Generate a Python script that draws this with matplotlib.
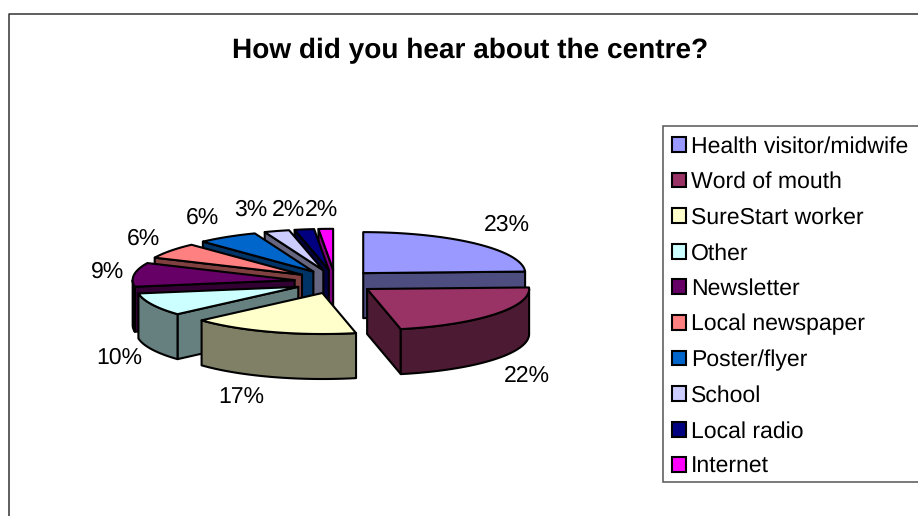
import numpy as np
import matplotlib
matplotlib.use("Agg")
import matplotlib.pyplot as plt
from matplotlib.patches import Polygon, Patch, Rectangle

categories = ["Health visitor/midwife", "Word of mouth", "SureStart worker", "Other",
              "Newsletter", "Local newspaper", "Poster/flyer", "School", "Local radio", "Internet"]
shares = [23, 22, 17, 10, 9, 6, 6, 3, 2, 2]
top_colors = ["#9999FF", "#993366", "#FFFFCC", "#CCFFFF", "#660066",
              "#FF8080", "#0066CC", "#CCCCFF", "#000080", "#FF00FF"]
label_xy = [(507, 225), (527, 376), (241, 398), (119, 358), (108, 272),
            (143, 239), (202, 218), (251, 210), (288, 210), (321, 210)]
# Angular drift (degrees) of each slice boundary under the tilted 3-D projection
edge_drift = [0, 5, 6, 5, 1.5, 3, 3.8, 4, 2.2, 2, 0]

plt.rcParams["font.family"] = ["Liberation Sans", "DejaVu Sans"]
plt.rcParams["text.hinting"] = "no_hinting"
plt.rcParams["text.hinting_factor"] = 1
W, H = 918, 516
fig = plt.figure(figsize=(W / 100, H / 100), dpi=100)
ax = fig.add_axes([0, 0, 1, 1])
ax.set_xlim(0, W)
ax.set_ylim(H, 0)
ax.axis("off")

# Pie geometry in figure pixels
CX, CY = 335.0, 281.7
RX, RY = 162.0, 41.0
EX, EY = 40.7, 11.9
DEPTH = 45.0
LW = 1.5


def rim(a0, a1, ox, oy, dz=0.0):
    t = np.radians(np.linspace(a0, a1, max(2, int(abs(a1 - a0)) + 2)))
    return np.column_stack([ox + RX * np.sin(t), oy - RY * np.cos(t) + dz])


def shade(color):
    return tuple(c * 0.5 for c in matplotlib.colors.to_rgb(color))


def face(points, color, z):
    ax.add_patch(Polygon(points, closed=True, facecolor=color, edgecolor="black",
                         linewidth=LW, joinstyle="round", zorder=z))


edges = np.concatenate([[0], np.cumsum(shares)]) / sum(shares) * 360 + np.array(edge_drift)
order = np.argsort(-np.cos(np.radians((edges[:-1] + edges[1:]) / 2)), kind="stable")

for rank, i in enumerate(order):
    a0, a1 = edges[i], edges[i + 1]
    mid = np.radians((a0 + a1) / 2)
    ox, oy = CX + EX * np.sin(mid), CY - EY * np.cos(mid)
    wall = shade(top_colors[i])
    z = 2 + rank
    apex = np.array([[ox, oy]])
    down = np.array([0, DEPTH])

    # Cut faces that look towards the viewer
    for ang, visible in ((a0, np.sin(np.radians(a0)) < -1e-6),
                         (a1, np.sin(np.radians(a1)) > 1e-6)):
        if visible:
            tip = rim(ang, ang, ox, oy)[:1]
            face(np.vstack([apex, tip, tip + down, apex + down]), wall, z)

    # Outer wall on the front half of the disc
    lo, hi = max(a0, 90), min(a1, 270)
    if hi > lo:
        upper = rim(lo, hi, ox, oy)
        lower = rim(lo, hi, ox, oy, DEPTH)
        face(np.vstack([upper, lower[::-1]]), wall, z)

    face(np.vstack([apex, rim(a0, a1, ox, oy)]), top_colors[i], z)

for (x, y), share in zip(label_xy, shares):
    ax.text(x, y, f"{share}%", fontsize=16.8, ha="center", va="center", color="black", zorder=30)

ax.text(470, 51, "How did you hear about the centre?", fontsize=20.1, fontweight="bold",
        ha="center", va="center", color="black")

# Chart frame runs off the right and bottom edges
ax.plot([8.5, 8.5, W + 5], [H + 5, 14, 14], color="#333333", lw=1.1, zorder=1)

# Legend box also runs off the right edge
ax.add_patch(Rectangle((663, 126), W, 355.5, facecolor="white", edgecolor="#555555",
                       linewidth=1.1, zorder=1))
handles = [Patch(facecolor=c, edgecolor="black", linewidth=LW) for c in top_colors]
leg = ax.legend(handles, categories, loc="upper left", bbox_to_anchor=(672, 136),
                bbox_transform=ax.transData, fontsize=16.8, frameon=False, borderpad=0,
                labelspacing=0.607, handlelength=0.6, handleheight=0.6,
                handletextpad=0.2, borderaxespad=0)
fig.savefig("out.png", dpi=100, facecolor="white")
